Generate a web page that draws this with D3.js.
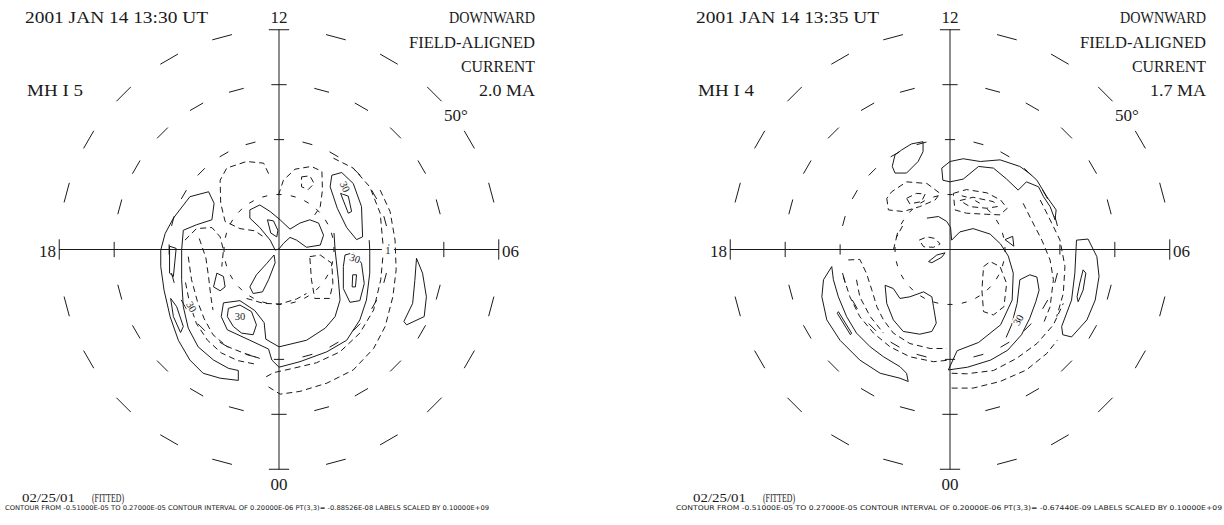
<!DOCTYPE html>
<html><head><meta charset="utf-8">
<script src="https://cdn.jsdelivr.net/npm/d3@7"></script>
<style>body{margin:0;background:#fff}svg{display:block}</style>
</head><body>
<svg id="chart" width="1224" height="525"></svg>
<script>
// ---------- DATA ----------
const panelTitles = ["2001 JAN 14 13:30 UT", "2001 JAN 14 13:35 UT"];
const panelIndex = ["MH I  5", "MH I  4"];
const panelTotals = ["2.0 MA", "1.7 MA"];
const currentLabel = ["DOWNWARD", "FIELD-ALIGNED", "CURRENT"];
const latLabel = "50\u00B0";
const hourNames = ["12", "06", "00", "18"];
const colatitudes = [10, 20, 30, 40];
const hoursPerDay = 24;
const footerDate = "02/25/01";
const footerFit = "(FITTED)";
const footerInfo = [
  "CONTOUR FROM -0.51000E-05 TO  0.27000E-05 CONTOUR INTERVAL OF  0.20000E-06 PT(3,3)= -0.88526E-08 LABELS SCALED BY  0.10000E+09",
  "CONTOUR FROM -0.51000E-05 TO  0.27000E-05 CONTOUR INTERVAL OF  0.20000E-06 PT(3,3)= -0.67440E-09 LABELS SCALED BY  0.10000E+09"
];

// contour vertices in degrees of colatitude: [dawnward, noonward]
const leftSolid = [
  {c:1,p:[[-7.4,-23.8],[-10.7,-23.4],[-13.8,-22.5],[-16.2,-20.1],[-18.3,-16.5],[-19.8,-12.2],[-20.9,-7.4],[-21.5,-3.1],[-21.5,-0.1],[-20.7,2.9],[-19.2,5.7],[-16.2,9.6],[-12.8,10.5],[-11.8,8.4],[-12.2,5.4],[-15.0,4.5],[-17.4,3.5],[-17.7,-0.1],[-17.7,-5.5],[-17.4,-10.4],[-16.5,-14.3],[-14.7,-17.7],[-11.9,-20.1],[-9.2,-21.6],[-7.4,-22.0]]},
  {c:1,p:[[-19.9,0.6],[-18.7,0.2],[-19.2,-4.9],[-19.9,-4.3]]},
  {c:1,p:[[-19.7,-8.9],[-18.6,-10.4],[-17.4,-14.0],[-17.9,-15.1],[-19.2,-12.2]]},
  {c:1,p:[[-5.3,7.2],[-3.5,8.1],[-1.6,6.9],[0.2,5.4],[2.0,3.7],[3.8,4.8],[5.6,5.4],[7.2,4.8],[8.1,2.6],[7.5,0.8],[5.0,0.4],[3.2,1.7],[2.0,2.2],[0.8,1.1],[0,0.1],[-0.7,-0.1],[-1.6,1.7],[-3.5,4.0],[-5.3,5.7]]},
  {c:1,p:[[-2.1,5.4],[-1.0,5.2],[-0.2,3.5],[-0.4,2.3],[-1.5,3.0]]},
  {c:1,p:[[-0.9,-1.0],[-0.7,-2.4],[-1.9,-5.5],[-3.0,-7.7],[-4.7,-8.0],[-5.3,-6.8],[-4.1,-4.6],[-2.2,-2.5]]},
  {c:1,p:[[-11.3,-4.3],[-10.1,-4.9],[-9.8,-6.8],[-10.7,-7.5],[-11.9,-6.8]]},
  {c:1,p:[[-9.2,-10.7],[-7.1,-10.1],[-5.0,-11.3],[-4.1,-13.7],[-4.7,-15.5],[-6.8,-15.2],[-8.3,-14.0],[-9.4,-12.2]]},
  {c:0,p:[[10.0,3.0],[10.2,-0.1],[10.8,-5.5],[11.1,-9.2],[10.2,-12.2],[8.4,-14.3],[5.0,-16.5],[0,-17.7],[-2.4,-16.3],[-2.7,-13.3],[-4.4,-11.1],[-7.1,-9.3],[-10.1,-9.7],[-10.5,-12.2],[-9.4,-14.6],[-5.3,-16.5],[-1.9,-18.1],[-1.3,-20.1],[0,-21.4],[3.8,-20.4],[8.7,-18.6],[12.3,-16.5],[14.7,-12.8],[15.9,-9.2],[16.5,-4.3],[16.5,-0.1],[16.4,1.7]]},
  {c:1,p:[[9.6,13.5],[11.4,14.0],[13.5,12.0],[15.0,7.8],[15.2,2.3],[14.1,1.8],[12.3,4.0],[10.6,7.5],[9.3,11.4]]},
  {c:1,p:[[11.2,10.2],[12.6,9.7],[13.2,6.9],[12.6,6.6]]},
  {c:1,p:[[12.0,-1.0],[13.5,-0.6],[15.0,-2.5],[15.5,-6.2],[14.7,-9.3],[12.9,-9.6],[11.7,-7.1],[11.7,-3.1]]},
  {c:1,p:[[13.4,-4.6],[14.1,-4.6],[13.9,-6.8],[13.3,-6.8]]},
  {c:1,p:[[25.0,-1.6],[26.1,-4.3],[26.8,-8.6],[26.4,-12.2],[23.2,-13.7],[22.7,-13.1],[24.3,-9.8],[24.7,-5.6]]}
];
const leftDashed = [
  {c:0,p:[[-1.9,13.8],[-2.8,15.7],[-5.9,16.0],[-9.5,14.8],[-10.7,12.6],[-10.6,8.4],[-9.8,5.1],[-7.1,3.8],[-4.4,3.4],[-2.8,2.3]]},
  {c:1,p:[[4.1,13.2],[5.6,13.4],[6.4,12.0],[5.3,10.9],[4.1,11.4]]},
  {c:0,p:[[-0.1,9.9],[0.8,12.6],[2.9,14.6],[5.9,15.1],[7.8,14.2],[7.9,10.8],[7.5,7.8],[6.5,6.3]]},
  {c:0,p:[[9.9,16.6],[13.5,14.8],[16.5,11.4],[18.4,6.6],[19.0,-0.1],[18.5,-5.5],[17.2,-11.0],[14.7,-15.2],[11.1,-18.6],[6.8,-20.6],[2.6,-21.6],[-1.0,-22.4],[-2.8,-23.4]]},
  {c:0,p:[[18.4,10.8],[20.2,6.9],[21.1,1.7],[21.3,-3.7],[20.7,-8.6],[19.3,-14.0],[17.2,-18.0],[13.5,-21.9],[8.7,-24.3],[3.8,-25.8],[0.2,-26.3],[-2.2,-24.8]]},
  {c:0,p:[[-17.1,1.7],[-15.0,3.8],[-12.2,4.0],[-10.7,2.3],[-10.1,-0.1],[-10.4,-3.1]]},
  {c:0,p:[[-16.5,-1.3],[-15.9,-5.5],[-14.9,-9.2],[-13.6,-12.6],[-12.0,-15.5],[-9.5,-17.6],[-6.5,-18.8],[-3.5,-19.8]]},
  {c:0,p:[[-17.0,-6.0],[-16.2,-10.0],[-15.0,-13.5],[-13.0,-16.5],[-10.5,-18.8],[-7.5,-20.2],[-4.5,-20.8]]},
  {c:0,p:[[-14.5,2.0],[-13.3,-1.5],[-12.8,-5.0],[-12.4,-8.5],[-12.0,-11.0]]},
  {c:1,p:[[5.6,-1.3],[7.5,-1.0],[9.6,-2.5],[9.8,-6.2],[9.2,-8.9],[6.5,-8.9],[5.9,-5.5]]},
  {c:0,p:[[-5.9,-8.9],[-2.8,-9.8],[0.2,-9.9],[3.2,-9.0],[5.0,-8.0]]}
];
const leftLabels = [
  {t:"30",u:12.0,v:11.4,a:65},{t:"30",u:13.8,v:-1.6,a:20},{t:"30",u:-7.1,v:-12.2,a:0},{t:"30",u:-15.9,v:-10.4,a:60},{t:"1",u:19.8,v:-0.2,a:0}
];
const rightSolid = [
  {c:1,p:[[-7.0,19.2],[-4.9,19.6],[-4.9,17.8],[-5.8,16.0],[-7.9,13.9],[-10.0,13.9],[-10.5,15.1],[-10.0,17.2],[-8.8,18.1]]},
  {c:1,p:[[-1.3,12.6],[-1.5,14.8],[0,16.0],[2.4,16.5],[5.5,16.0],[9.1,16.3],[12.7,15.1],[14.5,13.8],[15.8,12.6],[17.6,9.6],[19.3,7.2],[19.1,5.4],[18.2,7.8],[17.0,9.6],[16.1,11.4],[13.9,12.3],[12.4,10.8],[10.3,12.8],[7.9,14.8],[5.2,15.1],[2.4,12.8],[0,12.3]]},
  {c:0,p:[[-4.2,5.7],[-2.1,6.0],[-0.6,5.1],[0.1,4.0],[0.3,1.7],[1.8,3.2],[4.2,3.8],[7.3,2.8],[9.2,1.0],[10.6,-1.2],[11.5,-4.3],[11.3,-9.2],[9.2,-13.7],[5.2,-16.9],[1.3,-18.4],[-0.3,-21.9],[3.2,-21.4],[7.4,-20.1],[10.5,-18.3],[13.0,-15.5],[14.5,-12.5],[15.6,-9.5],[16.2,-7.4],[15.8,-5.0],[14.5,-4.6],[12.7,-5.5],[12.2,-9.8],[11.2,-13.7],[10.2,-16.0]]},
  {c:1,p:[[23.0,1.7],[25.1,1.9],[26.7,-1.3],[27.1,-4.9],[26.4,-9.2],[24.9,-12.8],[22.1,-15.9],[20.5,-15.5],[20.3,-14.0],[22.1,-9.2],[22.7,-4.3]]},
  {c:1,p:[[24.2,-3.7],[24.7,-4.3],[24.2,-7.4],[23.3,-9.5],[23.1,-8.6],[23.6,-6.1]]},
  {c:1,p:[[-21.5,-3.1],[-23.0,-5.5],[-23.3,-8.6],[-22.4,-12.8],[-20.0,-16.5],[-16.4,-20.1],[-12.7,-22.5],[-9.1,-23.4],[-7.6,-24.0],[-7.9,-22.5],[-9.1,-21.3],[-12.1,-19.5],[-14.5,-17.7],[-17.0,-15.2],[-18.8,-12.2],[-20.3,-8.6],[-21.2,-5.5]]},
  {c:1,p:[[-20.3,-11.3],[-17.9,-15.2],[-18.1,-15.5],[-20.5,-11.6]]},
  {c:1,p:[[-11.8,-6.5],[-10.3,-7.1],[-9.1,-8.9],[-7.3,-8.6],[-4.8,-7.7],[-3.3,-8.6],[-3.0,-10.4],[-2.5,-13.4],[-3.3,-14.9],[-5.5,-15.4],[-8.5,-14.9],[-10.3,-12.8],[-11.5,-9.8]]},
  {c:1,p:[[-3.9,-2.2],[-2.4,-1.0],[-0.9,-0.6],[-1.5,-1.4],[-3.3,-2.4]]},
  {c:1,p:[[10.0,1.8],[11.4,2.4],[11.6,0.6]]}
];
const rightDashed = [
  {c:1,p:[[-11.5,9.3],[-11.2,7.2],[-8.5,6.9],[-5.5,7.8],[-2.7,9.0],[-1.8,10.2],[-4.2,12.0],[-7.9,12.3],[-10.6,10.5]]},
  {c:1,p:[[-7.9,9.3],[-6.1,10.2],[-4.5,10.1],[-5.2,8.7],[-7.3,8.3]]},
  {c:1,p:[[0.6,10.2],[3.0,10.9],[6.7,10.3],[9.2,9.0],[10.4,7.5],[9.1,6.3],[6.7,6.4],[3.0,6.6],[0.9,7.2]]},
  {c:1,p:[[1.8,8.9],[4.2,9.5],[7.9,8.7],[8.6,7.8],[6.7,7.5],[3.6,7.8]]},
  {c:1,p:[[-5.6,1.7],[-4.2,2.3],[-2.7,2.0],[-1.8,1.0],[-3.0,0.4],[-4.8,0.5]]},
  {c:1,p:[[6.1,-3.1],[7.3,-2.2],[9.1,-3.1],[10.3,-6.2],[9.8,-10.4],[7.9,-11.9],[6.1,-11.3],[5.8,-7.4]]},
  {c:0,p:[[-18.5,-1.9],[-16.4,-1.8],[-15.2,-4.3],[-14.2,-7.4],[-13.3,-10.4],[-12.1,-12.8],[-10.3,-15.2],[-7.3,-17.1],[-3.6,-18.0],[-0.6,-18.0]]},
  {c:0,p:[[-19.4,-4.9],[-18.2,-8.6],[-16.4,-12.2],[-13.9,-15.2],[-10.9,-17.7],[-7.3,-19.5],[-3.0,-20.4],[0,-20.1]]},
  {c:0,p:[[-17.0,-5.5],[-16.4,-8.6],[-14.5,-12.2],[-12.1,-15.2]]},
  {c:0,p:[[0.3,-22.5],[3.0,-22.6],[7.9,-22.0],[12.1,-19.8],[15.8,-17.1],[18.8,-13.7],[20.6,-9.8]]},
  {c:0,p:[[0.3,-25.2],[4.2,-25.2],[9.1,-24.0],[13.9,-21.9],[17.6,-18.9],[19.5,-16.5]]},
  {c:0,p:[[13.3,8.4],[14.8,5.4],[16.7,1.7],[18.2,-1.9],[18.8,-5.5],[18.2,-10.4],[17.0,-13.4]]},
  {c:0,p:[[16.4,9.0],[18.2,5.4],[20.0,1.7],[20.9,-3.1],[20.6,-8.0],[19.4,-12.2]]},
  {c:0,p:[[-10.3,-0.1],[-9.7,2.3],[-8.5,4.5]]}
];
const rightLabels = [{t:"30",u:12.4,v:-12.8,a:-60}];

const panels = [
  {title:panelTitles[0], idx:panelIndex[0], total:panelTotals[0], solid:leftSolid, dashed:leftDashed, labels:leftLabels, info:footerInfo[0]},
  {title:panelTitles[1], idx:panelIndex[1], total:panelTotals[1], solid:rightSolid, dashed:rightDashed, labels:rightLabels, info:footerInfo[1]}
];

// ---------- LAYOUT ----------
const centersX = [279, 950];
const centerY = 249.5;
const radius = 220;
const maxColat = 40;
const ink = "#1a1a1a";
const serif = "'Liberation Serif','DejaVu Serif',serif";
const svg = d3.select("#chart");

panels.forEach((P, i) => {
  const cx = centersX[i];
  const x = d3.scaleLinear().domain([-maxColat, maxColat]).range([cx - radius, cx + radius]);
  const y = d3.scaleLinear().domain([-maxColat, maxColat]).range([centerY + radius, centerY - radius]);
  const g = svg.append("g");

  // latitude circles: short dashes centred on every MLT hour
  const half = 2.65 * Math.PI / 180;
  const dashes = [];
  colatitudes.forEach(c => d3.range(hoursPerDay).forEach(h => {
    const a = h * 2 * Math.PI / hoursPerDay;
    dashes.push([[c*Math.sin(a-half), c*Math.cos(a-half)], [c*Math.sin(a+half), c*Math.cos(a+half)]]);
  }));
  g.selectAll("line.ring").data(dashes).join("line").attr("class","ring")
    .attr("x1", d => x(d[0][0])).attr("y1", d => y(d[0][1]))
    .attr("x2", d => x(d[1][0])).attr("y2", d => y(d[1][1]))
    .attr("stroke", ink).attr("stroke-width", 1);

  // axes
  g.append("line").attr("x1", x(0)).attr("x2", x(0)).attr("y1", y(maxColat)).attr("y2", y(-maxColat)).attr("stroke", ink).attr("stroke-width", 1);
  g.append("line").attr("x1", x(-maxColat)).attr("x2", x(maxColat)).attr("y1", y(0)).attr("y2", y(0)).attr("stroke", ink).attr("stroke-width", 1);

  // contours
  const lineOpen = d3.line().x(d => x(d[0])).y(d => y(d[1]));
  const lineClosed = d3.line().x(d => x(d[0])).y(d => y(d[1])).curve(d3.curveLinearClosed);
  g.selectAll("path.pos").data(P.solid).join("path").attr("class","pos")
    .attr("d", d => (d.c ? lineClosed : lineOpen)(d.p))
    .attr("fill","none").attr("stroke", ink).attr("stroke-width", 1).attr("stroke-linejoin","round");
  g.selectAll("path.neg").data(P.dashed).join("path").attr("class","neg")
    .attr("d", d => (d.c ? lineClosed : lineOpen)(d.p))
    .attr("fill","none").attr("stroke", ink).attr("stroke-width", 1).attr("stroke-dasharray","6,4");

  // contour labels
  const lg = g.selectAll("g.lab").data(P.labels).join("g").attr("class","lab")
    .attr("transform", d => `translate(${x(d.u)},${y(d.v)}) rotate(${d.a})`);
  lg.append("rect").attr("x",-6).attr("y",-5).attr("width",12).attr("height",10).attr("fill","#fff");
  lg.append("text").text(d => d.t).attr("text-anchor","middle").attr("dy","0.35em")
    .attr("font-family", serif).attr("font-size", 10.5).attr("fill", ink);

  // hour labels
  const txt = (s, tx, ty, anchor, size, len) => {
    const t = g.append("text").text(s).attr("x", tx).attr("y", ty).attr("text-anchor", anchor)
      .attr("font-family", serif).attr("font-size", size).attr("fill", ink);
    if (len) t.attr("textLength", len).attr("lengthAdjust", "spacingAndGlyphs");
    return t;
  };
  txt(hourNames[0], x(0), 23, "middle", 17);
  txt(hourNames[1], x(maxColat) + 3, centerY + 7, "start", 17);
  txt(hourNames[2], x(0), 490, "middle", 17);
  txt(hourNames[3], x(-maxColat) - 3, centerY + 7, "end", 17);

  // titles
  txt(P.title, cx - 254, 23, "start", 17, 183);
  txt(currentLabel[0], cx + 256, 23, "end", 17, 86);
  txt(currentLabel[1], cx + 256, 48, "end", 17, 126);
  txt(currentLabel[2], cx + 256, 72, "end", 17, 74);
  txt(P.total, cx + 256, 96, "end", 17, 56);
  txt(P.idx, cx - 252, 96, "start", 17, 56);
  txt(latLabel, cx + 165, 121, "start", 17);

  // footer
  txt(footerDate, cx - 257, 502, "start", 12, 53);
  txt(footerFit, cx - 187, 502, "start", 12, 32);
  g.append("text").text(P.info).attr("x", cx - 274).attr("y", 510)
    .attr("font-family","'Liberation Sans Narrow','DejaVu Sans Condensed',sans-serif").attr("font-size", 6.5)
    .attr("fill", ink).attr("textLength", i === 0 ? 484 : 546).attr("lengthAdjust","spacingAndGlyphs");
});
</script>
</body></html>
